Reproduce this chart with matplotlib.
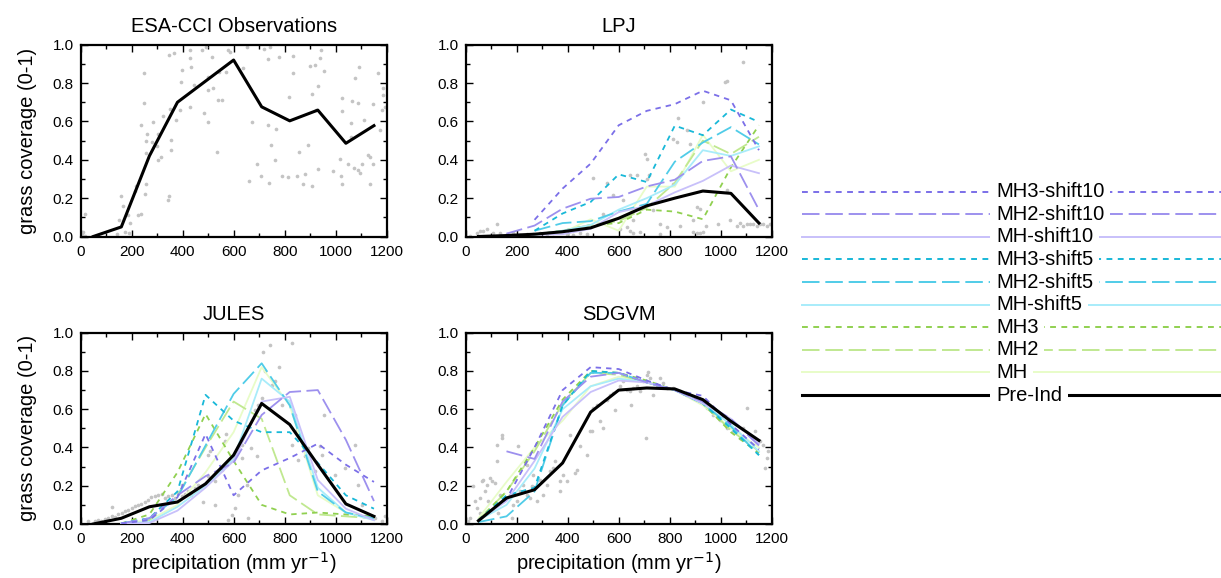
import numpy as np
import matplotlib
matplotlib.use("Agg")
import matplotlib.pyplot as plt
from matplotlib.ticker import MultipleLocator, FormatStrFormatter

plt.rcParams['font.family'] = ['Liberation Sans', 'DejaVu Sans']

nan = np.nan
# precipitation bin centres (mm/yr)
precip_bins = [50, 160, 270, 380, 490, 600, 710, 820, 930, 1040, 1150]

scenario_names = ["MH3-shift10", "MH2-shift10", "MH-shift10",
                  "MH3-shift5", "MH2-shift5", "MH-shift5",
                  "MH3", "MH2", "MH", "Pre-Ind"]
scenario_colors = ["#7b6fe8", "#9d90ee", "#c8c0fa",
                   "#18b8d8", "#50cce8", "#a8ecfa",
                   "#90d050", "#c0e890", "#e8fcc8", "#000000"]
scenario_styles = ["dot", "dash", "solid", "dot", "dash", "solid",
                   "dot", "dash", "solid", "solid"]

# ---------------- ESA-CCI observations ----------------
obs_line = [0.0, 0.05, 0.42, 0.70, 0.81, 0.92, 0.676, 0.603, 0.659, 0.486, 0.578]
obs_sx = [17, 4, 10, 17, 158, 167, 187, 152, 174, 191, 142, 193, 248, 248, 238, 285, 261, 256,
          282, 302, 298, 255, 315, 305, 256, 252, 217, 213, 226, 239, 348, 341, 324, 350, 353,
          353, 367, 348, 399, 393, 390, 374, 431, 429, 435, 446, 429, 484, 498, 475, 491, 514,
          501, 519, 501, 540, 553, 533, 542, 572, 579, 586, 651, 638, 671, 690, 660, 706, 720,
          733, 742, 736, 765, 746, 762, 740, 778, 834, 834, 818, 791, 814, 847, 856, 880, 873,
          890, 906, 899, 919, 938, 932, 941, 908, 922, 956, 932, 991, 1017, 1020, 1026, 1024,
          1026, 1063, 1060, 1060, 1047, 1076, 1089, 1092, 1073, 1089, 1095, 1102, 1112, 1128,
          1135, 1145, 1135, 1148, 1165, 1174, 1180, 1186, 1187, 1193]
obs_sy = [0.115, 0.014, 0.023, 0.005, 0.213, 0.159, 0.110, 0.084, 0.026, 0.019, 0.014, 0.070,
          0.850, 0.697, 0.580, 0.599, 0.533, 0.500, 0.491, 0.533, 0.470, 0.437, 0.415, 0.397,
          0.272, 0.223, 0.261, 0.237, 0.110, 0.115, 0.209, 0.192, 0.627, 0.664, 0.502, 0.449,
          0.955, 0.946, 0.868, 0.808, 0.659, 0.606, 0.974, 0.929, 0.885, 0.789, 0.676, 0.645,
          0.599, 0.972, 0.986, 0.937, 0.833, 0.772, 0.763, 0.711, 0.711, 0.443, 0.859, 0.859,
          0.972, 0.963, 0.986, 0.876, 0.598, 0.376, 0.289, 0.314, 0.976, 0.923, 0.990, 0.580,
          0.563, 0.477, 0.401, 0.280, 0.937, 0.941, 0.854, 0.728, 0.317, 0.310, 0.315, 0.439,
          0.324, 0.272, 0.479, 0.261, 0.889, 0.894, 0.929, 0.784, 0.972, 0.742, 0.662, 0.864,
          0.354, 0.340, 0.406, 0.315, 0.272, 0.720, 0.655, 0.706, 0.592, 0.519, 0.376, 0.824,
          0.697, 0.882, 0.357, 0.345, 0.333, 0.376, 0.610, 0.423, 0.415, 0.380, 0.275, 0.693,
          0.850, 0.554, 0.659, 0.772, 0.737, 0.676]

# ---------------- LPJ ----------------
lpj_lines = {
    "MH3-shift10": [nan, nan, 0.087, 0.25, 0.38, 0.58, 0.655, 0.69, 0.76, 0.71, 0.45],
    "MH2-shift10": [nan, 0.015, 0.057, 0.145, 0.197, 0.206, 0.261, 0.296, 0.394, 0.418, 0.139],
    "MH-shift10":  [nan, 0.005, 0.01, 0.012, 0.04, 0.127, 0.16, 0.23, 0.29, 0.37, 0.33],
    "MH3-shift5":  [nan, nan, 0.03, 0.12, 0.18, 0.324, 0.284, 0.578, 0.528, 0.662, 0.597],
    "MH2-shift5":  [nan, nan, 0.03, 0.07, 0.08, 0.13, 0.17, 0.39, 0.49, 0.57, 0.48],
    "MH-shift5":   [nan, nan, 0.01, 0.03, 0.06, 0.14, 0.20, 0.27, 0.45, 0.42, 0.47],
    "MH3":         [nan, nan, 0.01, 0.03, 0.06, 0.07, 0.14, 0.13, 0.09, 0.36, 0.58],
    "MH2":         [nan, nan, 0.01, 0.03, 0.06, 0.08, 0.15, 0.28, 0.50, 0.43, 0.52],
    "MH":          [nan, nan, 0.01, 0.02, 0.09, 0.03, 0.26, 0.26, 0.53, 0.34, 0.40],
    "Pre-Ind":     [0.0, 0.005, 0.012, 0.025, 0.045, 0.095, 0.16, 0.20, 0.237, 0.225, 0.07],
}
lpj_sx = [17, 43, 56, 69, 82, 122, 108, 135, 161, 187, 213, 239, 265, 291, 318, 344, 370, 396,
          422, 448, 474, 501, 553, 579, 540, 605, 631, 644, 670, 703, 710, 720, 710, 736, 762,
          684, 657, 814, 827, 834, 814, 840, 867, 880, 893, 906, 906, 919, 932, 932, 919, 942,
          991, 1017, 1023, 1023, 1036, 1063, 1076, 1089, 1089, 1102, 1115, 1128, 1141, 1154,
          1167, 1180, 1193, 762, 788, 657, 618, 644, 893]
lpj_sy = [0.005, 0.017, 0.031, 0.028, 0.040, 0.063, 0.017, 0.017, 0.014, 0.017, 0.010, 0.014,
          0.014, 0.017, 0.014, 0.017, 0.023, 0.014, 0.010, 0.017, 0.014, 0.307, 0.279, 0.214,
          0.118, 0.040, 0.049, 0.319, 0.319, 0.432, 0.406, 0.319, 0.301, 0.136, 0.014, 0.023,
          0.017, 0.507, 0.493, 0.620, 0.275, 0.057, 0.554, 0.484, 0.084, 0.153, 0.017, 0.017,
          0.023, 0.702, 0.145, 0.057, 0.066, 0.807, 0.812, 0.240, 0.084, 0.057, 0.070, 0.911,
          0.057, 0.066, 0.063, 0.066, 0.057, 0.066, 0.063, 0.057, 0.066, 0.066, 0.049, 0.084,
          0.188, 0.031, 0.023]

# ---------------- JULES ----------------
jules_lines = {
    "MH3-shift10": [nan, 0.003, 0.02, 0.14, 0.47, 0.15, 0.28, 0.345, 0.42, 0.31, 0.22],
    "MH2-shift10": [nan, 0.003, 0.03, 0.15, 0.25, 0.32, 0.57, 0.69, 0.70, 0.44, 0.12],
    "MH-shift10":  [nan, 0.003, 0.005, 0.07, 0.19, 0.33, 0.64, 0.665, 0.23, 0.08, 0.02],
    "MH3-shift5":  [nan, 0.003, 0.03, 0.17, 0.675, 0.54, 0.48, 0.48, 0.32, 0.15, 0.08],
    "MH2-shift5":  [nan, 0.003, 0.03, 0.14, 0.41, 0.68, 0.84, 0.62, 0.17, 0.06, 0.03],
    "MH-shift5":   [nan, 0.003, 0.01, 0.09, 0.20, 0.34, 0.76, 0.64, 0.19, 0.06, 0.02],
    "MH3":         [nan, 0.003, 0.05, 0.27, 0.575, 0.33, 0.10, 0.05, 0.06, 0.05, 0.04],
    "MH2":         [nan, 0.003, 0.02, 0.15, 0.40, 0.64, 0.55, 0.15, 0.05, 0.04, 0.03],
    "MH":          [nan, 0.003, 0.02, 0.10, 0.27, 0.48, 0.82, 0.62, 0.15, 0.06, 0.03],
    "Pre-Ind":     [0.0, 0.03, 0.09, 0.115, 0.21, 0.36, 0.63, 0.52, 0.31, 0.105, 0.04],
}
jules_sx = [30, 56, 69, 82, 95, 108, 122, 135, 125, 148, 161, 174, 187, 200, 213, 226, 239, 252,
            265, 278, 291, 305, 318, 331, 344, 357, 370, 383, 396, 409, 422, 435, 448, 461, 474,
            481, 501, 507, 527, 527, 553, 566, 572, 579, 592, 618, 631, 631, 657, 670, 684, 697,
            710, 716, 723, 742, 749, 762, 778, 788, 827, 840, 847, 827, 853, 880, 893, 919, 938,
            945, 955, 997, 1036, 1076, 1089, 1102, 1128, 1154, 1180, 1193, 690, 651, 605, 501, 396]
jules_sy = [0.014, 0.017, 0.023, 0.017, 0.028, 0.031, 0.040, 0.035, 0.087, 0.052, 0.057, 0.070,
            0.075, 0.084, 0.092, 0.101, 0.105, 0.115, 0.127, 0.139, 0.145, 0.153, 0.157, 0.136,
            0.145, 0.153, 0.136, 0.160, 0.145, 0.157, 0.171, 0.153, 0.188, 0.206, 0.197, 0.115,
            0.362, 0.380, 0.101, 0.223, 0.284, 0.432, 0.470, 0.023, 0.049, 0.153, 0.345, 0.415,
            0.031, 0.397, 0.598, 0.624, 0.659, 0.899, 0.798, 0.937, 0.728, 0.746, 0.821, 0.624,
            0.946, 0.571, 0.493, 0.415, 0.336, 0.354, 0.397, 0.275, 0.406, 0.362, 0.568, 0.258,
            0.293, 0.415, 0.206, 0.101, 0.049, 0.031, 0.014, 0.040, 0.354, 0.206, 0.084, 0.249,
            0.206]

# ---------------- SDGVM ----------------
sdgvm_lines = {
    "MH3-shift10": [0.02, 0.13, 0.40, 0.70, 0.82, 0.81, 0.75, 0.70, 0.67, 0.52, 0.39],
    "MH2-shift10": [nan, 0.38, 0.34, 0.64, 0.77, 0.79, 0.74, 0.70, 0.64, 0.55, 0.41],
    "MH-shift10":  [0.02, 0.12, 0.33, 0.56, 0.69, 0.75, 0.74, 0.70, 0.63, 0.55, 0.42],
    "MH3-shift5":  [0.02, 0.15, 0.19, 0.62, 0.80, 0.79, 0.74, 0.70, 0.63, 0.50, 0.36],
    "MH2-shift5":  [0.01, 0.04, 0.17, 0.62, 0.79, 0.79, 0.74, 0.70, 0.63, 0.51, 0.36],
    "MH-shift5":   [0.02, 0.10, 0.29, 0.60, 0.72, 0.76, 0.74, 0.70, 0.63, 0.52, 0.38],
    "MH3":         [0.02, 0.17, 0.40, 0.65, 0.80, 0.79, 0.75, 0.70, 0.63, 0.48, 0.37],
    "MH2":         [0.02, 0.17, 0.38, 0.63, 0.79, 0.78, 0.74, 0.70, 0.63, 0.49, 0.38],
    "MH":          [0.03, 0.22, 0.40, 0.54, 0.72, 0.77, 0.74, 0.70, 0.62, 0.50, 0.40],
    "Pre-Ind":     [0.017, 0.136, 0.179, 0.319, 0.585, 0.700, 0.711, 0.706, 0.65, 0.537, 0.437],
}
sdgvm_sx = [10, 17, 30, 37, 43, 56, 56, 63, 69, 76, 82, 89, 95, 102, 108, 115, 122, 122, 128,
            135, 141, 141, 148, 161, 174, 180, 187, 200, 207, 213, 226, 239, 239, 252, 259, 265,
            278, 291, 305, 318, 331, 344, 350, 370, 370, 383, 396, 409, 429, 435, 448, 474, 488,
            494, 501, 514, 527, 540, 553, 566, 579, 586, 605, 618, 631, 644, 647, 657, 670, 684,
            697, 707, 710, 716, 723, 736, 749, 762, 775, 788, 814, 840, 867, 893, 919, 945, 971,
            997, 1023, 1049, 1076, 1089, 1102, 1115, 1128, 1134, 1154, 1167, 1174, 1180, 1187]
sdgvm_sy = [0.014, 0.031, 0.197, 0.118, 0.084, 0.136, 0.057, 0.223, 0.232, 0.171, 0.206, 0.118,
            0.240, 0.223, 0.075, 0.214, 0.415, 0.328, 0.057, 0.153, 0.467, 0.449, 0.118, 0.136,
            0.153, 0.031, 0.101, 0.118, 0.406, 0.171, 0.206, 0.153, 0.310, 0.136, 0.197, 0.258,
            0.118, 0.232, 0.153, 0.206, 0.275, 0.293, 0.328, 0.171, 0.223, 0.258, 0.223, 0.467,
            0.267, 0.284, 0.406, 0.362, 0.484, 0.484, 0.606, 0.624, 0.537, 0.502, 0.650, 0.676,
            0.685, 0.598, 0.720, 0.746, 0.702, 0.693, 0.624, 0.711, 0.720, 0.693, 0.746, 0.449,
            0.780, 0.794, 0.763, 0.676, 0.728, 0.763, 0.737, 0.711, 0.711, 0.693, 0.676, 0.659,
            0.641, 0.606, 0.571, 0.545, 0.502, 0.484, 0.449, 0.502, 0.606, 0.467, 0.449, 0.484,
            0.432, 0.415, 0.293, 0.345, 0.380]

# ---------------- drawing ----------------
W, H = 1221, 578
fig = plt.figure(figsize=(W / 100, H / 100), dpi=100)

def px_axes(left, top, right, bottom):
    return fig.add_axes([left / W, (H - bottom) / H, (right - left) / W, (bottom - top) / H])

def dashes_for(style):
    if style == "dot":
        return (0, (3.0, 2.8))
    if style == "dash":
        return (0, (9.0, 3.0))
    return "solid"

def style_axes(ax, title, ylabel=False, xlabel=False):
    ax.set_xlim(0, 1200)
    ax.set_ylim(0, 1.0)
    ax.xaxis.set_major_locator(MultipleLocator(200))
    ax.xaxis.set_minor_locator(MultipleLocator(100))
    ax.yaxis.set_major_locator(MultipleLocator(0.2))
    ax.yaxis.set_minor_locator(MultipleLocator(0.1))
    ax.yaxis.set_major_formatter(FormatStrFormatter('%.1f'))
    ax.tick_params(which='both', direction='in', top=True, right=True, labelsize=11, width=1.0)
    ax.tick_params(which='major', length=5)
    ax.tick_params(which='minor', length=3)
    ax.tick_params(axis='x', pad=6)
    ax.tick_params(axis='y', pad=5)
    for s in ax.spines.values():
        s.set_linewidth(1.6)
    ax.set_title(title, fontsize=14.5, pad=9)
    if ylabel:
        ax.set_ylabel("grass coverage (0-1)", fontsize=14.5, labelpad=11)
    if xlabel:
        ax.set_xlabel("precipitation (mm yr$^{-1}$)", fontsize=14.5, labelpad=3)

def draw_scenarios(ax, lines):
    order = ["MH", "MH2", "MH3", "MH-shift5", "MH2-shift5", "MH3-shift5",
             "MH-shift10", "MH2-shift10", "MH3-shift10", "Pre-Ind"]
    for name in order:
        i = scenario_names.index(name)
        lw = 2.2 if name == "Pre-Ind" else 1.3
        ax.plot(precip_bins, lines[name], color=scenario_colors[i],
                linestyle=dashes_for(scenario_styles[i]), lw=lw, zorder=3)

dot_kw = dict(s=7, color="#c4c4c4", linewidths=0, zorder=2, clip_on=False)

ax1 = px_axes(80.5, 44.7, 386.7, 236.5)
ax1.scatter(obs_sx, obs_sy, **dot_kw)
ax1.plot(precip_bins, obs_line, color="black", lw=2.2, zorder=3)
style_axes(ax1, "ESA-CCI Observations", ylabel=True)

ax2 = px_axes(465.7, 44.7, 771.7, 236.5)
ax2.scatter(lpj_sx, lpj_sy, **dot_kw)
draw_scenarios(ax2, lpj_lines)
style_axes(ax2, "LPJ")

ax3 = px_axes(80.5, 332.7, 386.7, 524.0)
ax3.scatter(jules_sx, jules_sy, **dot_kw)
draw_scenarios(ax3, jules_lines)
style_axes(ax3, "JULES", ylabel=True, xlabel=True)

ax4 = px_axes(465.7, 332.7, 771.7, 524.0)
ax4.scatter(sdgvm_sx, sdgvm_sy, **dot_kw)
draw_scenarios(ax4, sdgvm_lines)
style_axes(ax4, "SDGVM", xlabel=True)

# legend panel
lg = px_axes(802, 180.4, 1221, 406.4)
lg.set_xlim(0, 1)
lg.set_ylim(len(scenario_names) - 0.5, -0.5)
lg.axis('off')
for i, name in enumerate(scenario_names):
    lw = 2.2 if name == "Pre-Ind" else 1.4
    lg.plot([0, 1], [i, i], color=scenario_colors[i],
            linestyle=dashes_for(scenario_styles[i]), lw=lw, zorder=1, clip_on=False)
    lg.text(0.463, i, name, fontsize=14.5, va='center', ha='left', zorder=3,
            bbox=dict(facecolor='white', edgecolor='none', pad=4))

fig.savefig("out.png", dpi=100)
